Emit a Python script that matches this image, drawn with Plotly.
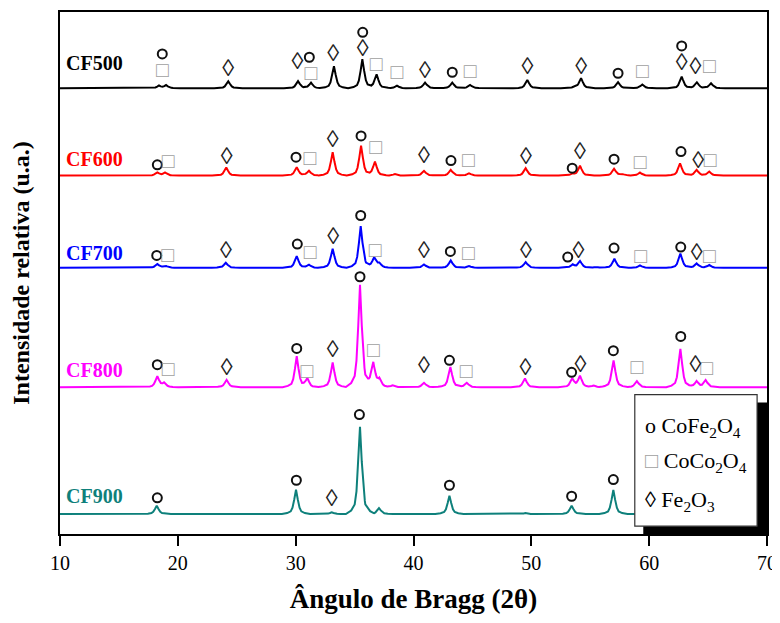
import numpy as np
import plotly.graph_objects as go

# ---------------- data ----------------
samples = ["CF500", "CF600", "CF700", "CF800", "CF900"]
colors = ["#000000", "#ff0000", "#0000ff", "#ff00ff", "#0e807b"]
baselines = [446.2, 358.8, 266.5, 147.0, 20.0]  # vertical stacking offsets (a.u.)

cf500_pos = [18.4, 19.0, 24.28, 30.2, 31.3, 33.25, 35.66, 36.87, 38.6, 40.98, 43.29, 44.8, 49.66, 53.7, 54.22, 57.36, 59.42, 62.76, 64.05, 65.25]
cf500_int = [2.5, 3.0, 7.0, 7.0, 5.5, 22.0, 29.0, 14.0, 2.5, 5.7, 5.7, 3.3, 8.3, 1.5, 10.0, 6.0, 3.7, 11.7, 6.0, 5.0]

cf600_pos = [18.26, 18.91, 24.11, 30.09, 31.13, 33.14, 35.55, 36.73, 38.43, 40.89, 43.16, 44.71, 49.52, 53.51, 54.13, 57.02, 57.67, 59.22, 62.62, 64.03, 65.1]
cf600_int = [3.0, 3.0, 8.0, 8.3, 4.7, 23.3, 30.0, 14.0, 1.5, 4.7, 5.7, 2.3, 7.3, 1.7, 9.7, 6.7, 1.5, 3.0, 12.3, 5.7, 4.0]

cf700_pos = [18.26, 18.94, 24.07, 30.09, 31.13, 33.14, 35.52, 36.67, 37.1, 40.89, 43.16, 44.71, 49.52, 53.51, 54.13, 55.5, 57.05, 59.22, 62.65, 64.03, 65.1]
cf700_int = [3.7, 2.0, 5.0, 11.7, 3.0, 19.0, 41.7, 10.0, 4.0, 3.3, 7.3, 1.7, 5.7, 3.0, 6.7, 1.0, 9.0, 2.3, 14.3, 4.3, 2.7]

cf800_pos = [18.26, 18.83, 24.14, 30.09, 30.99, 33.14, 35.46, 36.59, 37.1, 38.23, 40.89, 43.13, 44.52, 49.46, 53.47, 54.13, 55.3, 56.98, 58.96, 62.65, 64.03, 64.79]
cf800_int = [10.7, 4.0, 7.3, 30.7, 8.3, 24.7, 102.3, 24.0, 7.3, 1.7, 4.3, 20.3, 4.3, 8.7, 8.3, 11.0, 1.5, 26.7, 6.0, 38.3, 6.0, 7.0]

cf900_pos = [18.21, 30.03, 33.06, 35.46, 37.07, 43.05, 49.5, 53.42, 56.96, 62.6, 64.0, 65.1]
cf900_int = [8.3, 24.3, 1.7, 87.3, 6.0, 18.3, 1.0, 8.3, 24.0, 25.0, 3.0, 2.0]

peak_pos = [cf500_pos, cf600_pos, cf700_pos, cf800_pos, cf900_pos]
peak_int = [cf500_int, cf600_int, cf700_int, cf800_int, cf900_int]

# phase markers (2theta, stacked intensity)
cofe2o4_x = [18.68, 31.16, 35.69, 43.29, 57.36, 62.76,
             18.26, 30.03, 35.55, 43.18, 53.47, 57.02, 62.7,
             18.21, 30.14, 35.52, 43.13, 53.09, 57.02, 62.68,
             18.26, 30.09, 35.46, 43.05, 53.42, 56.96, 62.68,
             18.26, 30.06, 35.41, 43.05, 53.42, 56.96]
cofe2o4_y = [480.5, 477.2, 502.2, 462.2, 461.2, 488.5,
             369.5, 377.2, 398.5, 373.8, 366.2, 375.2, 382.8,
             278.8, 290.2, 318.8, 282.8, 277.2, 286.2, 287.2,
             169.5, 185.8, 257.5, 173.8, 161.8, 183.5, 197.8,
             36.2, 53.8, 119.5, 48.8, 37.8, 54.5]

coco2o4_x = [18.68, 31.28, 36.82, 38.58, 44.8, 59.42, 65.1,
             19.17, 31.2, 36.79, 44.66, 59.22, 65.16,
             19.14, 31.22, 36.73, 44.66, 59.28, 65.1,
             19.17, 30.94, 36.59, 44.46, 58.96, 64.87]
coco2o4_y = [462.8, 459.5, 468.5, 460.5, 461.8, 461.8, 466.8,
             371.2, 374.5, 385.2, 372.8, 370.2, 372.2,
             277.8, 280.5, 282.2, 279.5, 276.2, 276.8,
             163.8, 161.2, 182.8, 161.8, 165.2, 164.5]

fe2o3_x = [24.28, 30.14, 33.19, 35.69, 40.98, 49.66, 54.22, 62.76, 63.92,
           24.14, 33.14, 40.89, 49.55, 54.13, 64.17,
           24.09, 33.19, 40.89, 49.55, 53.99, 64.03,
           24.14, 33.14, 40.89, 49.49, 54.16, 63.92,
           33.06]
fe2o3_y = [464.5, 471.8, 479.5, 484.5, 462.8, 466.2, 466.2, 470.5, 466.2,
           376.8, 393.5, 377.2, 376.2, 381.2, 372.8,
           282.2, 296.2, 282.2, 282.2, 282.2, 280.2,
           165.2, 183.5, 167.2, 165.2, 167.8, 168.5,
           34.5]

label_x = [10.3, 10.3, 10.3, 10.3, 10.3]
label_y = [471.5, 375.2, 281.2, 163.8, 37.8]

x_ticks = [10, 20, 30, 40, 50, 60, 70]

# ---------------- peak line style ----------------
prof_dx = np.array([-1.2, -0.75, -0.45, -0.3, -0.15, 0.0, 0.15, 0.3, 0.45, 0.75, 1.2])
prof_w = np.array([0.0, 0.04, 0.11, 0.26, 0.6, 1.0, 0.6, 0.26, 0.11, 0.04, 0.0])

SERIF = "Liberation Serif, Times New Roman, serif"
fig = go.Figure()

for name, col, base, pos, inten in zip(samples, colors, baselines, peak_pos, peak_int):
    xs = np.unique(np.concatenate([[10.0, 70.0]] + [np.array(p) + prof_dx for p in pos]))
    xs = xs[(xs >= 10) & (xs <= 70)]
    ys = np.full_like(xs, base)
    for p, h in zip(pos, inten):
        ys += h * np.interp(xs - p, prof_dx, prof_w, left=0, right=0)
    fig.add_trace(go.Scatter(x=xs, y=ys, mode="lines", line=dict(color=col, width=2),
                             showlegend=False, hoverinfo="skip"))

fig.add_trace(go.Scatter(x=cofe2o4_x, y=cofe2o4_y, mode="markers",
                         marker=dict(symbol="circle-open", size=9, color="#111",
                                     line=dict(width=2, color="#111")),
                         showlegend=False))
fig.add_trace(go.Scatter(x=coco2o4_x, y=coco2o4_y, mode="text", text=["□"] * len(coco2o4_x),
                         textfont=dict(family=SERIF, size=21, color="#a0a0a0"),
                         textposition="middle center", showlegend=False))
fig.add_trace(go.Scatter(x=fe2o3_x, y=fe2o3_y, mode="text", text=["◊"] * len(fe2o3_x),
                         textfont=dict(family=SERIF, size=24, color="#222"),
                         textposition="middle center", showlegend=False))

for name, col, lx, ly in zip(samples, colors, label_x, label_y):
    fig.add_annotation(x=lx, y=ly, text=f"<b>{name}</b>", showarrow=False, xanchor="left",
                       yanchor="middle", font=dict(family=SERIF, size=20, color=col))

# legend box with shadow
fig.add_shape(type="rect", xref="paper", yref="paper", x0=0.825, x1=1.0, y0=0.0, y1=0.252,
              fillcolor="black", line=dict(width=0), layer="above")
fig.add_shape(type="rect", xref="paper", yref="paper", x0=0.813, x1=0.986, y0=0.015, y1=0.267,
              fillcolor="white", line=dict(width=1.2, color="#333"), layer="above")
leg_texts = ["o CoFe<sub>2</sub>O<sub>4</sub>",
             "<span style='color:#a0a0a0'>□</span> CoCo<sub>2</sub>O<sub>4</sub>",
             "◊ Fe<sub>2</sub>O<sub>3</sub>"]
leg_y = [0.205, 0.137, 0.064]
for t, yy in zip(leg_texts, leg_y):
    fig.add_annotation(xref="paper", yref="paper", x=0.825, y=yy, text=t, showarrow=False,
                       xanchor="left", yanchor="middle",
                       font=dict(family=SERIF, size=22, color="black"))

# the page adds an 8px body margin on the top/left, so the figure is 8px smaller
fig.update_layout(
    width=772, height=615,
    margin=dict(l=52, r=13, t=4, b=89, autoexpand=False),
    paper_bgcolor="white", plot_bgcolor="white",
    font=dict(family=SERIF, color="black"),
    xaxis=dict(range=[10, 70], tickvals=x_ticks, ticks="outside", ticklen=10, tickwidth=1.5,
               tickcolor="black", showline=True, linecolor="black", linewidth=1.8, mirror=True,
               showgrid=False, zeroline=False, automargin=False,
               tickfont=dict(family=SERIF, size=20, color="black"),
               title=dict(text="<b>Ângulo de Bragg (2θ)</b>", font=dict(family=SERIF, size=27),
                          standoff=16)),
    yaxis=dict(range=[0, 522.5], showticklabels=False, ticks="", showline=True,
               linecolor="black", linewidth=1.5, mirror=True, showgrid=False, zeroline=False,
               automargin=False,
               title=dict(text="<b>Intensidade relativa (u.a.)</b>",
                          font=dict(family=SERIF, size=24), standoff=22)),
)

fig.write_html("out.html")
